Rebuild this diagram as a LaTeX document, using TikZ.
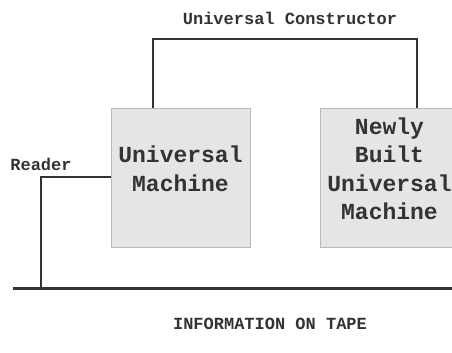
\documentclass[tikz,border=0pt]{standalone}
\usepackage{fontspec}
\setmonofont{Liberation Mono}
\tikzset{
  machine/.style={draw=gray!55, fill=gray!20, minimum width=139pt, minimum height=139pt, inner sep=0pt},
  boxtext/.style={font=\ttfamily\bfseries\fontsize{23}{28.5}\selectfont, text=black!80, align=center},
  tag/.style={font=\ttfamily\bfseries\fontsize{17}{20}\selectfont, text=black!80},
  wire/.style={draw=black!80, line width=2pt},
  tape/.style={draw=black!80, line width=3pt}
}
\begin{document}
\begin{tikzpicture}[x=1pt, y=-1pt]
    \useasboundingbox (0,0) rectangle (452,353);

    % Machines
    \node[machine] (um) at (180.5,177.5) {};
    \node[machine] (nb) at (389.5,177.5) {};
    \node[boxtext] (umtext) at (180.5,169) {Universal\\Machine};
    \node[boxtext] (nbtext) at (389.5,169) {Newly\\Built\\Universal\\Machine};

    % Tape
    \coordinate (tapeL) at (13,288);
    \coordinate (tapeR) at (452,288);
    \draw[tape] (tapeL) -- (tapeR);

    % Constructor arm
    \draw[wire] ([xshift=42pt]um.north west) -- ++(0,-69) -| ([xshift=97pt]nb.north west);

    % Reader arm
    \coordinate (rd) at (41,177);
    \draw[wire] (um.west |- rd) -- (rd) -- (rd |- tapeL);

    % Labels
    \node[tag] (uc) at (290,18) {Universal Constructor};
    \node[tag] (reader) at (41,164) {Reader};
    \node[tag] (info) at (270,324) {INFORMATION ON TAPE};
\end{tikzpicture}
\end{document}
